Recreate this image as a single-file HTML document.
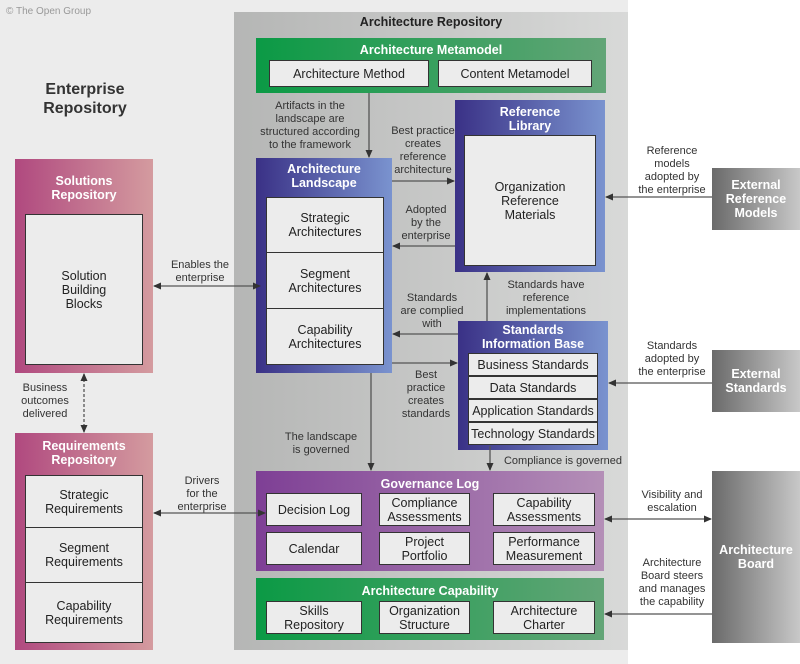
<!DOCTYPE html><html><head><style>
body{margin:0;width:800px;height:664px;position:relative;overflow:hidden;background:#fff;font-family:"Liberation Sans",sans-serif;color:#222}
div{position:absolute;box-sizing:border-box}
.c{display:flex;align-items:center;justify-content:center;text-align:center}
.in{background:#ececec;border:1px solid #333;font-size:12.5px;line-height:14px}
.t{color:#fff;font-weight:bold;font-size:12.5px;text-align:center;line-height:14px}
.l{font-size:11px;line-height:13px;text-align:center;color:#333;white-space:nowrap}
.blue{background:linear-gradient(90deg,#3a3186,#7a93cf)}
.green{background:linear-gradient(90deg,#0b9a45,#63a577)}
.gray{background:linear-gradient(90deg,#6a6a6a,#c8c8c8)}
</style></head><body>
<div style="left:0;top:0;width:628px;height:664px;background:#ececec"></div>
<div style="left:6px;top:6px;font-size:10px;color:#999">© The Open Group</div>
<div style="left:234px;top:12px;width:394px;height:638px;background:linear-gradient(90deg,#b5b6b5,#d8d9d8)"></div>
<div class="l" style="left:234px;top:16px;width:394px;font-weight:bold;font-size:12.5px;color:#222">Architecture Repository</div>
<div style="left:20px;top:80px;width:130px;font-weight:bold;font-size:16px;line-height:19px;text-align:center;color:#333">Enterprise<br>Repository</div>

<div class="green" style="left:256px;top:38px;width:350px;height:55px"></div>
<div class="t" style="left:256px;top:43px;width:350px">Architecture Metamodel</div>
<div class="in c" style="left:269px;top:60px;width:160px;height:27px">Architecture Method</div>
<div class="in c" style="left:438px;top:60px;width:154px;height:27px">Content Metamodel</div>

<div class="blue" style="left:455px;top:100px;width:150px;height:172px"></div>
<div class="t" style="left:455px;top:105px;width:150px">Reference<br>Library</div>
<div class="in c" style="left:464px;top:135px;width:132px;height:131px">Organization<br>Reference<br>Materials</div>

<div class="blue" style="left:256px;top:158px;width:136px;height:215px"></div>
<div class="t" style="left:256px;top:162px;width:136px">Architecture<br>Landscape</div>
<div class="in c" style="left:266px;top:197px;width:118px;height:56px">Strategic<br>Architectures</div>
<div class="in c" style="left:266px;top:252px;width:118px;height:57px">Segment<br>Architectures</div>
<div class="in c" style="left:266px;top:308px;width:118px;height:57px">Capability<br>Architectures</div>

<div class="blue" style="left:458px;top:321px;width:150px;height:129px"></div>
<div class="t" style="left:458px;top:323px;width:150px">Standards<br>Information Base</div>
<div class="in c" style="left:468px;top:353px;width:130px;height:23px">Business Standards</div>
<div class="in c" style="left:468px;top:376px;width:130px;height:23px">Data Standards</div>
<div class="in c" style="left:468px;top:399px;width:130px;height:23px">Application Standards</div>
<div class="in c" style="left:468px;top:422px;width:130px;height:23px">Technology Standards</div>

<div style="left:256px;top:471px;width:348px;height:100px;background:linear-gradient(90deg,#7e3f95,#b48fb7)"></div>
<div class="t" style="left:256px;top:477px;width:348px">Governance Log</div>
<div class="in c" style="left:266px;top:493px;width:96px;height:33px">Decision Log</div>
<div class="in c" style="left:379px;top:493px;width:91px;height:33px">Compliance<br>Assessments</div>
<div class="in c" style="left:493px;top:493px;width:102px;height:33px">Capability<br>Assessments</div>
<div class="in c" style="left:266px;top:532px;width:96px;height:33px">Calendar</div>
<div class="in c" style="left:379px;top:532px;width:91px;height:33px">Project<br>Portfolio</div>
<div class="in c" style="left:493px;top:532px;width:102px;height:33px">Performance<br>Measurement</div>

<div class="green" style="left:256px;top:578px;width:348px;height:62px"></div>
<div class="t" style="left:256px;top:584px;width:348px">Architecture Capability</div>
<div class="in c" style="left:266px;top:601px;width:96px;height:33px">Skills<br>Repository</div>
<div class="in c" style="left:379px;top:601px;width:91px;height:33px">Organization<br>Structure</div>
<div class="in c" style="left:493px;top:601px;width:102px;height:33px">Architecture<br>Charter</div>

<div style="left:15px;top:159px;width:138px;height:214px;background:linear-gradient(90deg,#b0497f,#d49b9f)"></div>
<div class="t" style="left:15px;top:174px;width:138px">Solutions<br>Repository</div>
<div class="in c" style="left:25px;top:214px;width:118px;height:151px">Solution<br>Building<br>Blocks</div>

<div style="left:15px;top:433px;width:138px;height:217px;background:linear-gradient(90deg,#b0497f,#d49b9f)"></div>
<div class="t" style="left:15px;top:439px;width:138px">Requirements<br>Repository</div>
<div class="in c" style="left:25px;top:475px;width:118px;height:53px">Strategic<br>Requirements</div>
<div class="in c" style="left:25px;top:527px;width:118px;height:56px">Segment<br>Requirements</div>
<div class="in c" style="left:25px;top:582px;width:118px;height:61px">Capability<br>Requirements</div>

<div class="gray t c" style="left:712px;top:168px;width:88px;height:62px">External<br>Reference<br>Models</div>
<div class="gray t c" style="left:712px;top:350px;width:88px;height:62px">External<br>Standards</div>
<div class="gray t c" style="left:712px;top:471px;width:88px;height:172px">Architecture<br>Board</div>

<svg style="position:absolute;left:0;top:0" width="800" height="664">
<defs><marker id="a" markerWidth="8" markerHeight="8" refX="7" refY="4" orient="auto-start-reverse" markerUnits="userSpaceOnUse"><path d="M0,0.5L8,4L0,7.5z" fill="#333"/></marker></defs>
<g stroke="#555" stroke-width="1.3" fill="none">
<line x1="369" y1="93" x2="369" y2="157" marker-end="url(#a)"/>
<line x1="392" y1="181" x2="454" y2="181" marker-end="url(#a)"/>
<line x1="455" y1="246" x2="393" y2="246" marker-end="url(#a)"/>
<line x1="458" y1="334" x2="393" y2="334" marker-end="url(#a)"/>
<line x1="392" y1="363" x2="457" y2="363" marker-end="url(#a)"/>
<line x1="487" y1="321" x2="487" y2="273" marker-end="url(#a)"/>
<line x1="712" y1="197" x2="606" y2="197" marker-end="url(#a)"/>
<line x1="712" y1="383" x2="609" y2="383" marker-end="url(#a)"/>
<line x1="371" y1="373" x2="371" y2="470" marker-end="url(#a)"/>
<line x1="490" y1="446" x2="490" y2="470" marker-end="url(#a)"/>
<line x1="605" y1="519" x2="711" y2="519" marker-start="url(#a)" marker-end="url(#a)"/>
<line x1="712" y1="614" x2="605" y2="614" marker-end="url(#a)"/>
<line x1="154" y1="286" x2="260" y2="286" marker-start="url(#a)" marker-end="url(#a)"/>
<line x1="154" y1="513" x2="265" y2="513" marker-start="url(#a)" marker-end="url(#a)"/>
<line x1="84" y1="374" x2="84" y2="432" stroke-dasharray="3,2" marker-start="url(#a)" marker-end="url(#a)"/>
</g></svg>

<div class="l" style="left:258px;top:100px;width:104px">Artifacts in the<br>landscape are<br>structured according<br>to the framework</div>
<div class="l" style="left:388px;top:125px;width:70px">Best practice<br>creates<br>reference<br>architecture</div>
<div class="l" style="left:396px;top:204px;width:60px">Adopted<br>by the<br>enterprise</div>
<div class="l" style="left:396px;top:292px;width:72px">Standards<br>are complied<br>with</div>
<div class="l" style="left:494px;top:279px;width:104px">Standards have<br>reference<br>implementations</div>
<div class="l" style="left:396px;top:369px;width:60px">Best<br>practice<br>creates<br>standards</div>
<div class="l" style="left:276px;top:431px;width:90px">The landscape<br>is governed</div>
<div class="l" style="left:496px;top:455px;width:134px">Compliance is governed</div>
<div class="l" style="left:632px;top:145px;width:80px">Reference<br>models<br>adopted by<br>the enterprise</div>
<div class="l" style="left:632px;top:340px;width:80px">Standards<br>adopted by<br>the enterprise</div>
<div class="l" style="left:632px;top:489px;width:80px">Visibility and<br>escalation</div>
<div class="l" style="left:632px;top:557px;width:80px">Architecture<br>Board steers<br>and manages<br>the capability</div>
<div class="l" style="left:160px;top:259px;width:80px">Enables the<br>enterprise</div>
<div class="l" style="left:160px;top:475px;width:84px">Drivers<br>for the<br>enterprise</div>
<div class="l" style="left:10px;top:382px;width:70px">Business<br>outcomes<br>delivered</div>
</body></html>
